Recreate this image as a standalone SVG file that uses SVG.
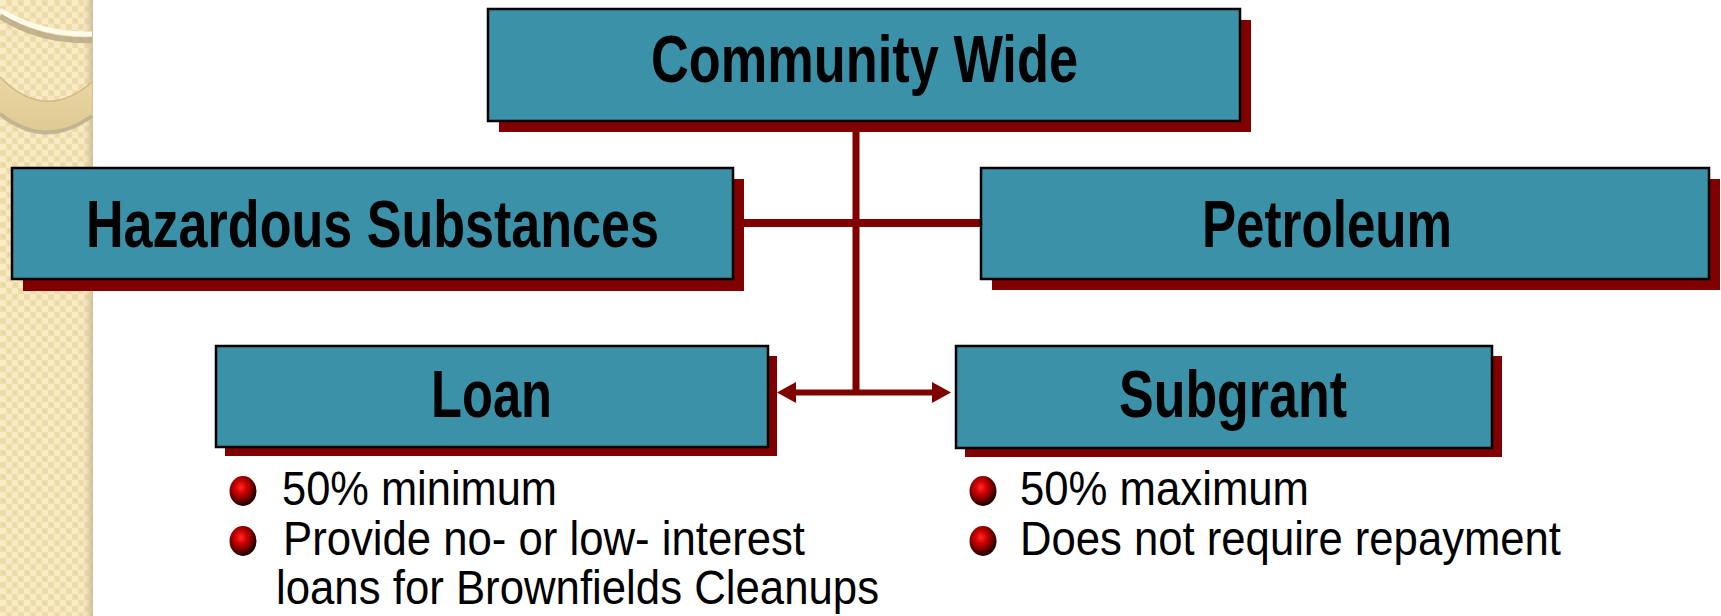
<svg xmlns="http://www.w3.org/2000/svg" width="1721" height="616" viewBox="0 0 1721 616">
  <style>
    .box { fill: #3a91a8; stroke: #000000; stroke-width: 2.5; }
    .shadow { fill: #800000; }
    .label { font-family: "Liberation Sans", Arial, sans-serif; font-weight: bold; font-size: 66px; fill: #000000; }
    .item { font-family: "Liberation Sans", Arial, sans-serif; font-size: 48px; fill: #000000; }
    .conn { stroke: #800000; fill: none; }
  </style>
  <defs>
    <pattern id="chk" width="12" height="12" patternUnits="userSpaceOnUse">
      <rect width="12" height="12" fill="#efdcab"/>
      <rect x="0" y="0" width="6" height="6" fill="#f8eac3"/>
      <rect x="6" y="6" width="6" height="6" fill="#f8eac3"/>
      <rect x="8" y="2" width="2" height="2" fill="#e9d5a3"/>
      <rect x="2" y="8" width="2" height="2" fill="#e9d5a3"/>
    </pattern>
    <linearGradient id="edge" x1="0" y1="0" x2="1" y2="0">
      <stop offset="0" stop-color="#d8c9a2" stop-opacity="0"/>
      <stop offset="1" stop-color="#cdbf99"/>
    </linearGradient>
    <linearGradient id="band" x1="0" y1="0" x2="0" y2="1">
      <stop offset="0" stop-color="#ead6a4"/>
      <stop offset="1" stop-color="#dfc994"/>
    </linearGradient>
    <radialGradient id="ball" cx="0.42" cy="0.38" r="0.62">
      <stop offset="0" stop-color="#ff2a2a"/>
      <stop offset="0.35" stop-color="#d00000"/>
      <stop offset="0.72" stop-color="#680000"/>
      <stop offset="1" stop-color="#140000"/>
    </radialGradient>
    <marker id="ah" viewBox="0 0 20 21" refX="0" refY="10.5" markerWidth="20" markerHeight="21" markerUnits="userSpaceOnUse" orient="auto-start-reverse">
      <path d="M0,0 L19,10.5 L0,21 Z" fill="#800000"/>
    </marker>
  </defs>

  <rect width="1721" height="616" fill="#ffffff"/>

  <!-- decorative left strip -->
  <g id="strip">
    <rect x="0" y="0" width="92" height="616" fill="url(#chk)"/>
    <rect x="84" y="0" width="9" height="616" fill="url(#edge)"/>
    <path d="M0,16 Q40,42 92,40" stroke="#b5a885" stroke-width="6" fill="none" opacity="0.8"/>
    <path d="M0,10 Q40,35 92,34" stroke="#fffbea" stroke-width="5" fill="none"/>
    <path d="M0,77 Q45,123 92,82 L92,116 Q45,150 0,114 Z" fill="url(#band)"/>
    <path d="M0,77 Q45,123 92,82" stroke="#cdb987" stroke-width="1.5" fill="none"/>
    <path d="M0,114 Q45,150 92,116" stroke="#b9ad8c" stroke-width="4" fill="none" opacity="0.8"/>
  </g>

  <!-- connectors -->
  <g id="connectors">
    <line class="conn" x1="856" y1="121" x2="856" y2="395" stroke-width="7"/>
    <line class="conn" x1="738" y1="223" x2="986" y2="223" stroke-width="8"/>
    <line class="conn" x1="796" y1="392.5" x2="932" y2="392.5" stroke-width="6" marker-start="url(#ah)" marker-end="url(#ah)"/>
  </g>

  <!-- nodes -->
  <g id="community-wide">
    <rect class="shadow" x="499" y="20" width="752" height="112"/>
    <rect class="box" x="488" y="9" width="752" height="112"/>
    <text class="label" x="651" y="82" textLength="427" lengthAdjust="spacingAndGlyphs">Community Wide</text>
  </g>

  <g id="hazardous-substances">
    <rect class="shadow" x="23" y="179" width="721" height="112"/>
    <rect class="box" x="12" y="168" width="721" height="111"/>
    <text class="label" x="86" y="247" textLength="573" lengthAdjust="spacingAndGlyphs">Hazardous Substances</text>
  </g>

  <g id="petroleum">
    <rect class="shadow" x="992" y="179" width="728" height="111"/>
    <rect class="box" x="981" y="168" width="728" height="111"/>
    <text class="label" x="1202" y="247" textLength="250" lengthAdjust="spacingAndGlyphs">Petroleum</text>
  </g>

  <g id="loan">
    <rect class="shadow" x="225" y="356" width="552" height="100"/>
    <rect class="box" x="216" y="346" width="552" height="101"/>
    <text class="label" x="431" y="417" textLength="121" lengthAdjust="spacingAndGlyphs">Loan</text>
  </g>

  <g id="subgrant">
    <rect class="shadow" x="965" y="356" width="537" height="101"/>
    <rect class="box" x="956" y="346" width="536" height="102"/>
    <text class="label" x="1119" y="417" textLength="228" lengthAdjust="spacingAndGlyphs">Subgrant</text>
  </g>

  <!-- bullet lists -->
  <g id="loan-notes">
    <ellipse cx="243" cy="491" rx="13.5" ry="15" fill="url(#ball)"/>
    <ellipse cx="243" cy="541" rx="13.5" ry="15" fill="url(#ball)"/>
    <text class="item" x="282" y="505" textLength="275" lengthAdjust="spacingAndGlyphs">50% minimum</text>
    <text class="item" x="283" y="555" textLength="522" lengthAdjust="spacingAndGlyphs">Provide no- or low- interest</text>
    <text class="item" x="276" y="604" textLength="603" lengthAdjust="spacingAndGlyphs">loans for Brownfields Cleanups</text>
  </g>

  <g id="subgrant-notes">
    <ellipse cx="983" cy="491" rx="13.5" ry="15" fill="url(#ball)"/>
    <ellipse cx="983" cy="541" rx="13.5" ry="15" fill="url(#ball)"/>
    <text class="item" x="1020" y="505" textLength="289" lengthAdjust="spacingAndGlyphs">50% maximum</text>
    <text class="item" x="1020" y="555" textLength="541" lengthAdjust="spacingAndGlyphs">Does not require repayment</text>
  </g>
</svg>
